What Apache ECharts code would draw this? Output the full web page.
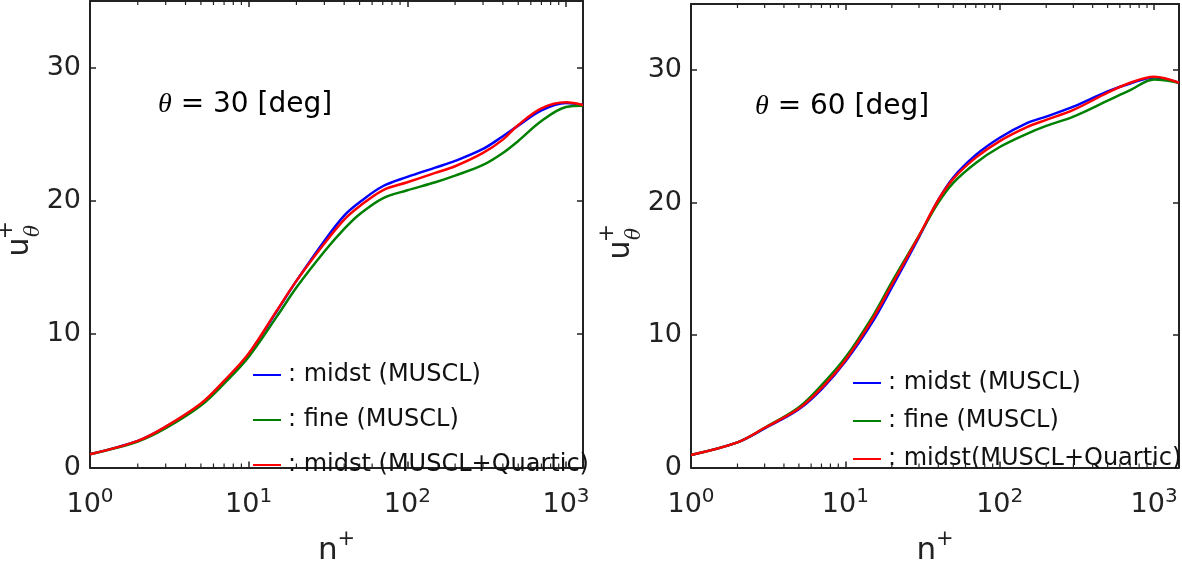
<!DOCTYPE html>
<html>
<head>
<meta charset="utf-8">
<style>
html,body{margin:0;padding:0;background:#fff;}
#chart{width:1182px;height:571px;}
</style>
<script src="https://cdn.jsdelivr.net/npm/echarts@6/dist/echarts.min.js"></script>
</head>
<body>
<div id="chart"></div>
<script>
// ---- data ----
const nLeft = [1, 2, 3, 5, 7, 10, 15, 20, 30, 40, 50, 70, 100, 150, 200, 300, 400, 500, 700, 1000, 1280];
const blue30  = [1.0, 2.0, 3.05, 4.75, 6.45, 8.5, 11.7, 14.0, 17.0, 18.9, 19.9, 21.1, 21.8, 22.5, 23.0, 23.9, 24.85, 25.65, 26.8, 27.35, 27.2];
const red30   = [1.0, 2.0, 3.07, 4.8, 6.5, 8.55, 11.75, 14.0, 16.8, 18.6, 19.6, 20.8, 21.4, 22.1, 22.6, 23.6, 24.6, 25.7, 26.95, 27.4, 27.2];
const green30 = [1.0, 1.95, 2.95, 4.65, 6.3, 8.3, 11.3, 13.5, 16.2, 17.9, 19.0, 20.2, 20.8, 21.4, 21.9, 22.7, 23.6, 24.5, 26.0, 27.05, 27.15];

const nRight = [1, 2, 3, 5, 7, 10, 15, 20, 30, 40, 50, 70, 100, 150, 200, 300, 500, 700, 1000, 1450];
const blue60  = [0.95, 1.9, 2.95, 4.4, 5.9, 8.0, 11.0, 13.6, 17.4, 20.2, 21.9, 23.6, 24.9, 26.0, 26.5, 27.25, 28.4, 29.0, 29.45, 29.05];
const red60   = [0.95, 1.9, 3.0, 4.45, 6.0, 8.1, 11.2, 13.8, 17.5, 20.2, 21.8, 23.4, 24.65, 25.7, 26.25, 27.0, 28.3, 29.05, 29.5, 29.05];
const green60 = [0.95, 1.9, 3.0, 4.55, 6.2, 8.3, 11.4, 14.0, 17.5, 20.0, 21.5, 23.0, 24.2, 25.2, 25.8, 26.5, 27.7, 28.5, 29.3, 29.05];

const namesLeft  = ['midst (MUSCL)', 'fine (MUSCL)', 'midst (MUSCL+Quartic)'];
const namesRight = ['midst (MUSCL)', 'fine (MUSCL)', 'midst(MUSCL+Quartic)'];
const panelTitles = ['30', '60'];
const yTicks = [0, 10, 20, 30];
const xMaxes = [1280, 1450];

// ---- styling ----
const FONT = '"DejaVu Sans", "Noto Sans", sans-serif';
const INK = '#222';
const COLORS = ['#0000ff', '#008000', '#ff0000'];

function zip(xs, ys) { return xs.map((x, i) => [x, ys[i]]); }

// minor tick positions for a log axis (2..9 per decade)
function minorTicks(max) {
  const out = [];
  for (let d = 1; d <= 1000; d *= 10) {
    for (let m = 2; m <= 9; m++) { if (m * d < max) out.push([m * d]); }
  }
  return out;
}

const grids = [
  { left: 90, top: 1, width: 493, height: 475 },
  { left: 691, top: 4, width: 490, height: 474 }
];

const xAxes = [], yAxes = [], series = [];
grids.forEach((g, gi) => {
  const common = {
    type: 'log', logBase: 10, min: 1, max: xMaxes[gi], gridIndex: gi,
    splitLine: { show: false },
    axisLine: { show: true, onZero: false, lineStyle: { color: INK, width: 2 } },
    axisTick: { show: true, inside: true, length: 6, lineStyle: { color: INK, width: 1.5 } }
  };
  xAxes.push(Object.assign({}, common, {
    position: 'bottom',
    name: '{n|n}{p|+}', nameLocation: 'middle', nameGap: 62,
    nameTextStyle: { rich: {
      n: { fontSize: 31, lineHeight: 42, color: INK, fontFamily: FONT },
      p: { fontSize: 21, lineHeight: 21, verticalAlign: 'top', color: INK, fontFamily: FONT }
    }},
    axisLabel: {
      margin: 19,
      formatter: function (v) {
        const k = Math.round(Math.log10(v));
        if (Math.abs(Math.log10(v) - k) > 1e-6) return '';
        return '{b|10}{s|' + k + '}';
      },
      rich: {
        b: { fontSize: 27, lineHeight: 36, color: INK, fontFamily: FONT },
        s: { fontSize: 20, lineHeight: 20, verticalAlign: 'top', color: INK, fontFamily: FONT }
      }
    }
  }));
  xAxes.push(Object.assign({}, common, { position: 'top', axisLabel: { show: false } }));
  const ycommon = {
    type: 'value', min: 0, max: 35, interval: 10, gridIndex: gi,
    splitLine: { show: false },
    axisLine: { show: true, onZero: false, lineStyle: { color: INK, width: 2 } },
    axisTick: { show: true, inside: true, length: 6, lineStyle: { color: INK, width: 1.5 } }
  };
  yAxes.push(Object.assign({}, ycommon, {
    position: 'left',
    axisLabel: {
      margin: 9, fontSize: 27, color: INK, fontFamily: FONT,
      formatter: v => (yTicks.indexOf(v) >= 0 ? String(v) : '')
    }
  }));
  yAxes.push(Object.assign({}, ycommon, { position: 'right', axisLabel: { show: false } }));
});

const panelData = [
  { n: nLeft,  ys: [blue30, green30, red30], names: namesLeft },
  { n: nRight, ys: [blue60, green60, red60], names: namesRight }
];
panelData.forEach((p, gi) => {
  p.ys.forEach((ys, si) => {
    series.push({
      type: 'line', name: p.names[si],
      xAxisIndex: gi * 2, yAxisIndex: gi * 2,
      data: zip(p.n, ys), smooth: 0.35, showSymbol: false, symbol: 'none',
      lineStyle: { color: COLORS[si], width: 2.5 }, itemStyle: { color: COLORS[si] },
      z: 3 + si, silent: true, animation: false
    });
  });
  // minor log ticks on bottom and top edges
  series.push({
    type: 'custom', xAxisIndex: gi * 2, yAxisIndex: gi * 2, silent: true, animation: false,
    data: minorTicks(xMaxes[gi]), clip: false, z: 10,
    renderItem: function (params, api) {
      const b = api.coord([api.value(0), 0]);
      const t = api.coord([api.value(0), 35]);
      const st = { stroke: INK, lineWidth: 1.2 };
      return { type: 'group', children: [
        { type: 'line', shape: { x1: b[0], y1: b[1], x2: b[0], y2: b[1] - 4 }, style: st },
        { type: 'line', shape: { x1: t[0], y1: t[1], x2: t[0], y2: t[1] + 4 }, style: st }
      ]};
    }
  });
});

function legendFor(gi, left, top, gap, names) {
  return {
    orient: 'vertical', left: left, top: top, itemGap: gap, padding: 0,
    itemWidth: 28, itemHeight: 2, icon: 'rect', selectedMode: false,
    data: names,
    formatter: name => ': ' + name,
    textStyle: { fontSize: 24, lineHeight: 24, color: '#111', fontFamily: FONT, padding: [0, 0, 0, 2] }
  };
}

// y-axis title u+_theta, rotated, and panel annotation
function yTitle(x, y) {
  return {
    type: 'group', x: x, y: y, rotation: Math.PI / 2, silent: true,
    children: [
      { type: 'text', x: 0, y: 0, style: { text: 'u', font: '30px ' + FONT, fill: INK, align: 'center', verticalAlign: 'middle' } },
      { type: 'text', x: 17, y: -14, style: { text: '+', font: '22px ' + FONT, fill: INK, align: 'center', verticalAlign: 'middle' } },
      { type: 'text', x: 16, y: 14, style: { text: 'θ', font: 'italic 20px "DejaVu Serif", serif', fill: INK, align: 'center', verticalAlign: 'middle' } }
    ]
  };
}
function annot(x, y, deg) {
  return {
    type: 'text', x: x, y: y, silent: true,
    style: {
      text: '{t|θ}{r| = ' + deg + ' [deg]}',
      verticalAlign: 'middle',
      rich: {
        t: { font: 'italic 28px "Liberation Serif", serif', fill: '#000' },
        r: { font: '28px ' + FONT, fill: '#000' }
      }
    }
  };
}

const chart = echarts.init(document.getElementById('chart'), null, { renderer: 'canvas' });
chart.setOption({
  animation: false,
  backgroundColor: '#fff',
  grid: grids,
  xAxis: xAxes,
  yAxis: yAxes,
  series: series,
  legend: [
    legendFor(0, 253, 363, 21, namesLeft),
    legendFor(1, 853, 371, 14, namesRight)
  ],
  graphic: [
    yTitle(20, 247),
    yTitle(621, 250),
    annot(158, 105, panelTitles[0]),
    annot(755, 107, panelTitles[1])
  ]
});
</script>
</body>
</html>
